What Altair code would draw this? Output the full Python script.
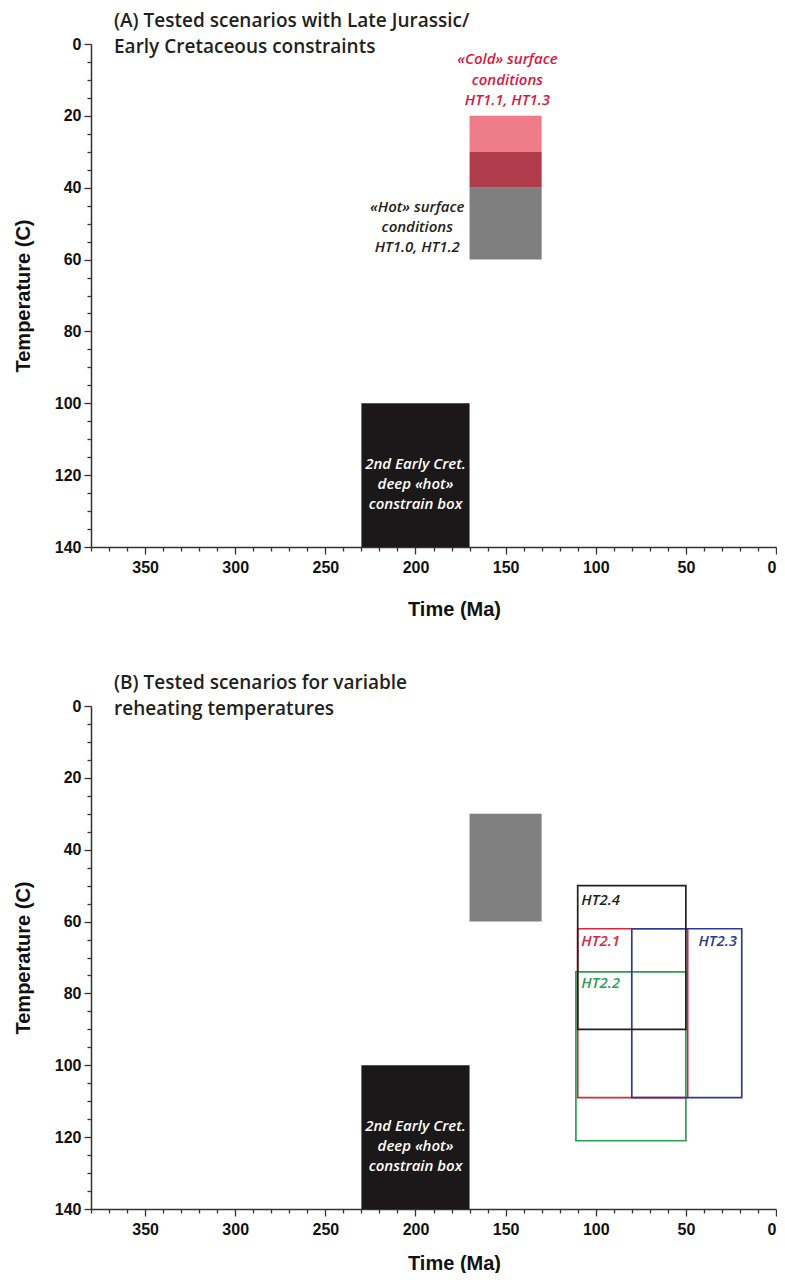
import altair as alt
import pandas as pd

# ---------------- data ----------------
# Panel A: filled constraint boxes (time in Ma, temperature in C)
a_box_label = ["Cold surface", "Cold/Hot overlap", "Hot surface", "2nd Early Cret."]
a_t_old = [170, 170, 170, 230]
a_t_young = [130, 130, 130, 170]
a_temp_top = [20, 30, 40, 100]
a_temp_bot = [30, 40, 60, 140]
a_colors = ["#EE7C88", "#B03B4A", "#7F7F7F", "#1B1819"]

# Panel B: filled constraint boxes
b_box_label = ["Hot surface", "2nd Early Cret."]
b_t_old = [170, 230]
b_t_young = [130, 170]
b_temp_top = [30, 100]
b_temp_bot = [60, 140]
b_colors = ["#808080", "#1B1819"]

# Panel B: reheating scenario outlines
ht_names = ["HT2.1", "HT2.2", "HT2.3", "HT2.4"]
ht_t_old = [110, 111, 80, 110]
ht_t_young = [49, 50, 19, 50]
ht_temp_top = [62, 74, 62, 50]
ht_temp_bot = [109, 121, 109, 90]
ht_colors = ["#D7263D", "#2E9E55", "#2E3A8F", "#231F20"]
ht_label_t = [108, 108, 43, 108]
ht_label_temp = [65.5, 77, 65.5, 54]

# annotations
cold_lines = ["«Cold» surface", "conditions", "HT1.1, HT1.3"]
cold_temps = [4.3, 10.0, 15.6]
cold_t = 149
hot_lines = ["«Hot» surface", "conditions", "HT1.0, HT1.2"]
hot_temps = [45.4, 50.9, 56.4]
hot_t = 199
box_lines = ["2nd Early Cret.", "deep «hot»", "constrain box"]
box_temps = [117.0, 122.5, 128.0]
box_t = 200

title_a = ["(A) Tested scenarios with Late Jurassic/", "Early Cretaceous constraints"]
title_b = ["(B) Tested scenarios for variable", "reheating temperatures"]

x_ticks = list(range(0, 381, 10))
y_ticks = list(range(0, 141, 5))

# ---------------- styling ----------------
W, H = 685, 503
AX_FONT = "Liberation Sans"
TXT_FONT = "Open Sans"

xscale = alt.Scale(domain=[0, 380], reverse=True, nice=False, zero=False)
yscale = alt.Scale(domain=[0, 140], reverse=True, nice=False, zero=False)


def make_x_axis(title_pad):
    return alt.Axis(
        title="Time (Ma)", values=x_ticks,
        labelExpr="datum.value % 50 === 0 ? datum.label : ''",
        tickSize={"condition": {"test": "datum.value % 50 === 0", "value": 7}, "value": 4},
        labelPadding=5, titlePadding=title_pad, titleX=363,
        labelFont=AX_FONT, labelFontSize=16, labelFontWeight="bold", labelColor="#111111",
        titleFont=AX_FONT, titleFontSize=20, titleFontWeight="bold", titleColor="#111111",
        domainColor="#333333", domainWidth=1.5, tickColor="#333333", tickWidth=1.3,
        grid=False, labelOverlap=False, labelFlush=True,
    )


y_axis = alt.Axis(
    title="Temperature (C)", values=y_ticks,
    labelExpr="datum.value % 20 === 0 ? datum.label : ''",
    tickSize={"condition": {"test": "datum.value % 20 === 0", "value": 7}, "value": 4},
    labelPadding=3, titlePadding=21,
    labelFont=AX_FONT, labelFontSize=16, labelFontWeight="bold", labelColor="#111111",
    titleFont=AX_FONT, titleFontSize=20, titleFontWeight="bold", titleColor="#111111",
    domainColor="#333333", domainWidth=1.5, tickColor="#333333", tickWidth=1.3,
    grid=False, labelOverlap=False, labelFlush=False,
)


def xy(xf, yf, x_axis):
    return (alt.X(xf, scale=xscale, axis=x_axis), alt.Y(yf, scale=yscale, axis=y_axis))


def filled_boxes(labels, t0, t1, y0, y1, colors, x_axis):
    df = pd.DataFrame({"box": labels, "t0": t0, "t1": t1, "y0": y0, "y1": y1, "c": colors})
    X, Y = xy("t0:Q", "y0:Q", x_axis)
    return alt.Chart(df).mark_rect().encode(
        x=X, x2="t1:Q", y=Y, y2="y1:Q",
        color=alt.Color("c:N", scale=None),
    )


def text_lines(lines, t, temps, color, x_axis, size=15, align="center"):
    df = pd.DataFrame({"txt": lines, "t0": [t] * len(lines), "y0": temps})
    X, Y = xy("t0:Q", "y0:Q", x_axis)
    return alt.Chart(df).mark_text(
        font=TXT_FONT, fontStyle="italic", fontWeight=600, fontSize=size,
        color=color, align=align, baseline="middle",
    ).encode(x=X, y=Y, text="txt:N")


def panel_title(lines):
    return alt.TitleParams(
        text=lines, anchor="start", frame="group", orient="top",
        dx=23, dy=28, offset=-8, baseline="alphabetic", lineHeight=26,
        font=TXT_FONT, fontSize=19, fontWeight=600, color="#231F20",
    )


# ---------------- panel A ----------------
xa = make_x_axis(24)
panel_a = alt.layer(
    filled_boxes(a_box_label, a_t_old, a_t_young, a_temp_top, a_temp_bot, a_colors, xa),
    text_lines(cold_lines, cold_t, cold_temps, "#D6193F", xa),
    text_lines(hot_lines, hot_t, hot_temps, "#231F20", xa),
    text_lines(box_lines, box_t, box_temps, "#FFFFFF", xa),
).properties(width=W, height=H, title=panel_title(title_a))

# ---------------- panel B ----------------
xb = make_x_axis(16)
ht_df = pd.DataFrame({"name": ht_names, "t0": ht_t_old, "t1": ht_t_young,
                      "y0": ht_temp_top, "y1": ht_temp_bot, "c": ht_colors})
Xb, Yb = xy("t0:Q", "y0:Q", xb)
ht_boxes = alt.Chart(ht_df).mark_rect(filled=False, strokeWidth=1.7).encode(
    x=Xb, x2="t1:Q", y=Yb, y2="y1:Q",
    stroke=alt.Stroke("c:N", scale=None),
)
ht_lab_df = pd.DataFrame({"txt": ht_names, "t0": ht_label_t, "y0": ht_label_temp, "c": ht_colors})
ht_labels = alt.Chart(ht_lab_df).mark_text(
    font=TXT_FONT, fontStyle="italic", fontWeight=600, fontSize=15,
    align="left", baseline="middle",
).encode(
    x=Xb, y=Yb, text="txt:N",
    color=alt.Color("c:N", scale=None),
)

panel_b = alt.layer(
    filled_boxes(b_box_label, b_t_old, b_t_young, b_temp_top, b_temp_bot, b_colors, xb),
    ht_boxes,
    ht_labels,
    text_lines(box_lines, box_t, box_temps, "#FFFFFF", xb),
).properties(width=W, height=H, title=panel_title(title_b))

chart = alt.vconcat(panel_a, panel_b, spacing=159, bounds="flush").configure_view(
    stroke=None
).properties(padding={"left": 5, "top": 4, "right": 0, "bottom": 0}, background="white")

chart.save("out.html", embed_options={"renderer": "svg", "actions": False})
